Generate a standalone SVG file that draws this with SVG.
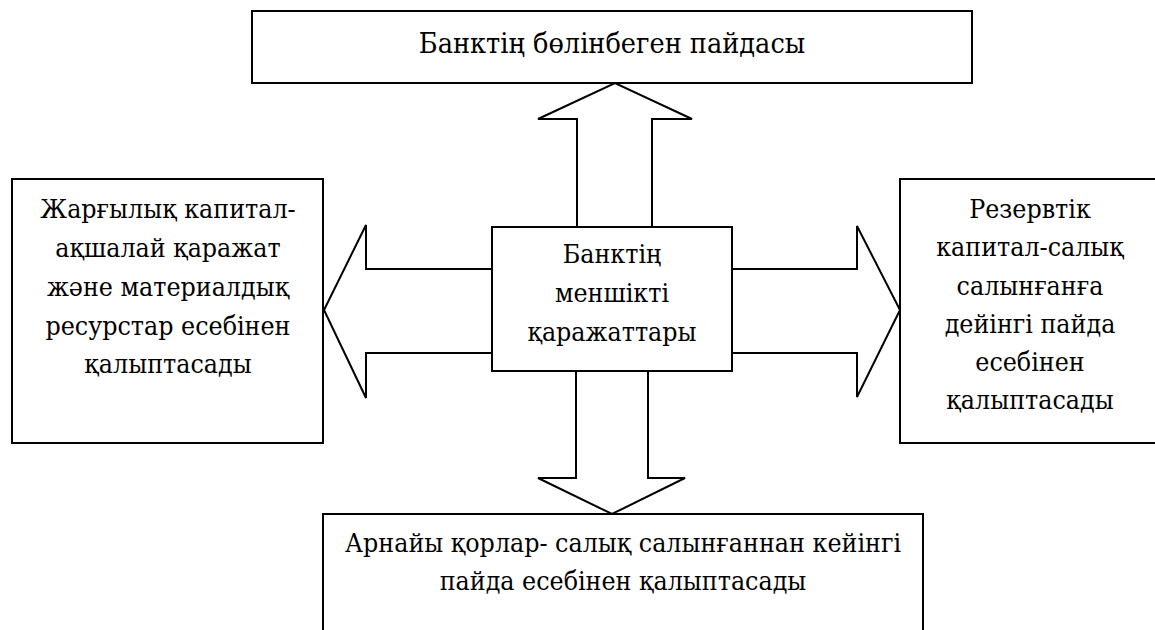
<svg xmlns="http://www.w3.org/2000/svg" width="1155" height="630" viewBox="0 0 1155 630">
<style>
.box{fill:#fff;stroke:#000;stroke-width:2}
.arr{fill:#fff;stroke:#000;stroke-width:2;stroke-linejoin:miter}
.t{font-family:'DejaVu Serif Condensed','DejaVu Serif',serif;font-stretch:condensed;font-size:26.5px;fill:#000;text-anchor:middle}
.big{font-size:28.5px}
</style>
<rect width="1155" height="630" fill="#fff"/>
<g id="connectors">
<polygon class="arr" points="577,227 577,119 538,119 615,83 692,119 652,119 652,227"/>
<polygon class="arr" points="576,371 576,478 538,478 612,514 685,478 648,478 648,371"/>
<polygon class="arr" points="492,269 366,269 366,225 324,310 366,398 366,353 492,353"/>
<polygon class="arr" points="732,269 857,269 857,226 900,310 857,397 857,353 732,353"/>
</g>
<g id="top">
<rect class="box" x="252" y="11" width="720" height="72"/>
<text class="t big" x="612" y="53">Банктің бөлінбеген пайдасы</text>
</g>
<g id="center">
<rect class="box" x="492" y="227" width="240" height="144"/>
<text class="t" x="612" y="263">Банктің</text>
<text class="t" x="612" y="302">меншікті</text>
<text class="t" x="612" y="341">қаражаттары</text>
</g>
<g id="left">
<rect class="box" x="12" y="179" width="311" height="264"/>
<text class="t" x="168" y="218">Жарғылық капитал-</text>
<text class="t" x="168" y="257">ақшалай қаражат</text>
<text class="t" x="168" y="296">және материалдық</text>
<text class="t" x="168" y="335">ресурстар есебінен</text>
<text class="t" x="168" y="373">қалыптасады</text>
</g>
<g id="right">
<rect class="box" x="900" y="179" width="262" height="264"/>
<text class="t" x="1030" y="218">Резервтік</text>
<text class="t" x="1030" y="256">капитал-салық</text>
<text class="t" x="1030" y="295">салынғанға</text>
<text class="t" x="1030" y="333">дейінгі пайда</text>
<text class="t" x="1030" y="371">есебінен</text>
<text class="t" x="1030" y="409">қалыптасады</text>
</g>
<g id="bottom">
<rect class="box" x="323" y="514" width="600" height="130"/>
<text class="t" x="623" y="552">Арнайы қорлар- салық салынғаннан кейінгі</text>
<text class="t" x="623" y="590">пайда есебінен қалыптасады</text>
</g>
</svg>
